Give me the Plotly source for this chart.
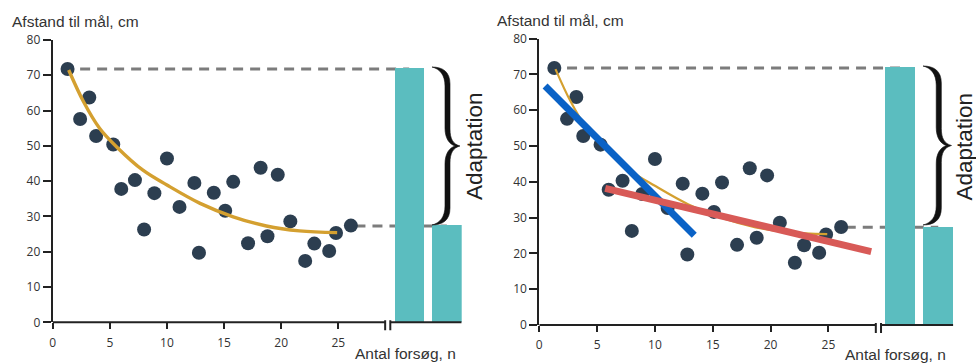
import plotly.graph_objects as go

# ---------------- data ----------------
trial_x = [1.3, 2.4, 3.2, 3.8, 5.3, 6.0, 7.2, 8.0, 8.9, 10.0, 11.1, 12.4, 12.8,
           14.1, 15.1, 15.8, 17.1, 18.2, 18.8, 19.7, 20.8, 22.1, 22.9, 24.2, 24.8, 26.1]
distance_y = [71.8, 57.6, 63.7, 52.8, 50.4, 37.8, 40.3, 26.3, 36.6, 46.4, 32.7, 39.5, 19.7,
              36.7, 31.6, 39.8, 22.4, 43.8, 24.4, 41.8, 28.6, 17.4, 22.3, 20.2, 25.3, 27.4]

curve_x = [1.4, 2.7, 4.1, 5.6, 7.9, 10.0, 12.9, 15.8, 18.7, 21.6, 24.9]
curve_y = [71.5, 62.5, 55.0, 49.7, 43.1, 38.9, 33.7, 29.9, 27.3, 25.9, 25.4]

early_x = [0.5, 13.4]
early_y = [66.8, 25.1]
late_x = [5.7, 28.7]
late_y = [38.2, 20.5]

bar_x = [31.2, 34.5]
bar_y = [72.1, 27.6]

level_start = 71.8
level_end = 27.3
dash_start_x = [2.4, 26.5]

x_ticks = [0, 5, 10, 15, 20, 25]
y_ticks = [0, 10, 20, 30, 40, 50, 60, 70, 80]

y_title = "Afstand til mål, cm"
x_title = "Antal forsøg, n"
brace_label = "Adaptation"

# ---------------- style ----------------
W, H = 976, 363
DOT = "#2c3e50"
GOLD = "#d4a030"
TEAL = "#5bbdbf"
DASH = "#7c7c7c"
AX = "#222222"
TXT = "#333333"
BLUE = "#0a62c6"
RED = "#d85a57"
FONT = "Liberation Sans"

fig = go.Figure()

panels = [
    dict(xa="x", ya="y", xdom=[52.7 / W, 461.7 / W], ydom=[(H - 322.3) / H, (H - 40) / H],
         curve_w=3.4, lines=False, brace=(432, 67, 28, 158), adapt=(474, 146),
         ytitle=(10, 21.7), xtitle=(353, 353)),
    dict(xa="x2", ya="y2", xdom=[539.3 / W, 953.3 / W], ydom=[(H - 325) / H, (H - 38.7) / H],
         curve_w=2.2, lines=True, brace=(923, 66, 28.5, 159), adapt=(963.5, 147),
         ytitle=(495, 20), xtitle=(843, 354.5)),
]

shapes = []
annotations = []


def brace_path(ox, oy, bw, bh):
    sx, sy = bw / 28.0, bh / 158.0
    cmds = [
        ("M", [(0, 0)]),
        ("C", [(11, 0), (18, 5), (18, 17)]),
        ("L", [(18, 62)]),
        ("C", [(18, 72), (21, 77), (28, 79)]),
        ("C", [(21, 81), (18, 86), (18, 96)]),
        ("L", [(18, 141)]),
        ("C", [(18, 153), (11, 158), (0, 158)]),
        ("C", [(8, 156), (13, 150), (13, 139)]),
        ("L", [(13, 97)]),
        ("C", [(13, 87), (17, 81), (23, 79)]),
        ("C", [(17, 77), (13, 71), (13, 61)]),
        ("L", [(13, 19)]),
        ("C", [(13, 8), (8, 2), (0, 0)]),
    ]
    out = []
    for c, pts in cmds:
        s = " ".join("%.5f,%.5f" % ((ox + px * sx) / W, 1 - (oy + py * sy) / H) for px, py in pts)
        out.append(c + " " + s)
    return " ".join(out) + " Z"


for i, p in enumerate(panels):
    xa, ya = p["xa"], p["ya"]
    # bars
    fig.add_trace(go.Bar(x=bar_x, y=bar_y, width=2.6, marker=dict(color=TEAL, line=dict(width=0)),
                         xaxis=xa, yaxis=ya, showlegend=False, hoverinfo="skip"))
    # data points
    fig.add_trace(go.Scatter(x=trial_x, y=distance_y, mode="markers",
                             marker=dict(color=DOT, size=14, line=dict(width=0)),
                             xaxis=xa, yaxis=ya, showlegend=False, cliponaxis=False))
    # fitted curve
    fig.add_trace(go.Scatter(x=curve_x, y=curve_y, mode="lines",
                             line=dict(color=GOLD, width=p["curve_w"], shape="spline"),
                             xaxis=xa, yaxis=ya, showlegend=False))
    if p["lines"]:
        fig.add_trace(go.Scatter(x=early_x, y=early_y, mode="lines", line=dict(color=BLUE, width=7),
                                 xaxis=xa, yaxis=ya, showlegend=False))
        fig.add_trace(go.Scatter(x=late_x, y=late_y, mode="lines", line=dict(color=RED, width=7),
                                 xaxis=xa, yaxis=ya, showlegend=False))

    # dashed reference levels (under the bars)
    for sx0, lvl, ex in [(dash_start_x[0], level_start, bar_x[0]), (dash_start_x[1], level_end, bar_x[1])]:
        shapes.append(dict(type="line", xref=xa, yref=ya, x0=sx0, x1=ex, y0=lvl, y1=lvl,
                           line=dict(color=DASH, width=3, dash="10px,7px"), layer="below"))

    # broken x-axis line
    ydomref = ya + " domain"
    for seg in [(0, 29.1), (29.55, 35.8)]:
        shapes.append(dict(type="line", xref=xa, yref=ydomref, x0=seg[0], x1=seg[1], y0=0, y1=0,
                           line=dict(color=AX, width=2)))
    for bx in [29.1, 29.55]:
        shapes.append(dict(type="line", xref=xa, yref=ydomref, ysizemode="pixel", yanchor=0,
                           x0=bx, x1=bx, y0=2, y1=-8, line=dict(color=AX, width=2)))

    # brace
    bx0, by0, bw, bh = p["brace"]
    shapes.append(dict(type="path", xref="paper", yref="paper", path=brace_path(bx0, by0, bw, bh),
                       fillcolor="#111111", line=dict(width=0.6, color="#111111")))

    # texts
    annotations.append(dict(text=brace_label, xref="paper", yref="paper",
                            x=p["adapt"][0] / W, y=1 - p["adapt"][1] / H, textangle=-90,
                            showarrow=False, xanchor="center", yanchor="middle",
                            font=dict(family=FONT, size=22.5, color="#222")))
    annotations.append(dict(text=y_title, xref="paper", yref="paper",
                            x=p["ytitle"][0] / W, y=1 - p["ytitle"][1] / H,
                            showarrow=False, xanchor="left", yanchor="middle",
                            font=dict(family=FONT, size=15.5, color=TXT)))
    annotations.append(dict(text=x_title, xref="paper", yref="paper",
                            x=p["xtitle"][0] / W, y=1 - p["xtitle"][1] / H,
                            showarrow=False, xanchor="left", yanchor="middle",
                            font=dict(family=FONT, size=15.5, color=TXT)))

axis_common_x = dict(range=[0, 35.8], showline=False, showgrid=False, zeroline=False,
                     tickmode="array", tickvals=x_ticks, ticks="outside", ticklen=6, tickwidth=2,
                     tickcolor=AX, tickfont=dict(family="Open Sans", size=12, color=TXT),
                     ticklabelstandoff=3, fixedrange=True)
axis_common_y = dict(range=[0, 80], showline=True, linecolor=AX, linewidth=2, showgrid=False,
                     zeroline=False, tickmode="array", tickvals=y_ticks, ticks="outside",
                     ticklen=8, tickwidth=2, tickcolor=AX,
                     tickfont=dict(family="Open Sans", size=12, color=TXT), fixedrange=True)

fig.update_layout(
    width=W, height=H, autosize=False,
    margin=dict(l=0, r=0, t=0, b=0, autoexpand=False),
    paper_bgcolor="white", plot_bgcolor="white",
    showlegend=False, bargap=0,
    xaxis=dict(domain=panels[0]["xdom"], anchor="y", **axis_common_x),
    yaxis=dict(domain=panels[0]["ydom"], anchor="x", **axis_common_y),
    xaxis2=dict(domain=panels[1]["xdom"], anchor="y2", **axis_common_x),
    yaxis2=dict(domain=panels[1]["ydom"], anchor="x2", **axis_common_y),
    shapes=shapes,
    annotations=annotations,
)

fig.write_html(
    "out.html",
    config={"displayModeBar": False},
    post_script="document.body.style.margin='0';document.body.style.padding='0';"
                "document.body.style.overflow='hidden';",
)
